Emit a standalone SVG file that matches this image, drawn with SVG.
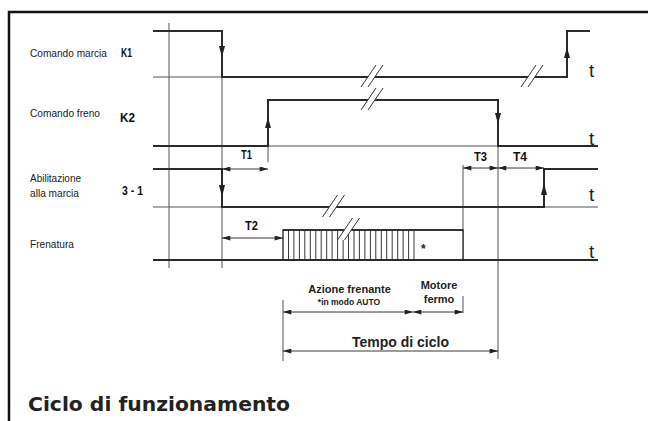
<svg xmlns="http://www.w3.org/2000/svg" xmlns:xlink="http://www.w3.org/1999/xlink" width="648" height="421" viewBox="0 0 648 421">
<style>
.sig{fill:none;stroke:#2b2b2b;stroke-width:2;stroke-linejoin:miter}
.thin{fill:none;stroke:#555;stroke-width:1}
.dim{fill:none;stroke:#222;stroke-width:0.9;marker-start:url(#da);marker-end:url(#da)}
.ah{fill:#222}
.lbl{font-family:"Liberation Sans",Arial,sans-serif;font-size:11px;fill:#222}
.code{font-family:"Liberation Sans",Arial,sans-serif;font-weight:bold;font-size:12px;fill:#111}
.t{font-family:"Liberation Sans",Arial,sans-serif;font-size:19px;fill:#222}
.b{font-family:"Liberation Sans",Arial,sans-serif;font-weight:bold;fill:#222}
</style>
<defs>
<marker id="da" viewBox="0 0 10 6" refX="10" refY="3" markerWidth="9" markerHeight="5" markerUnits="userSpaceOnUse" orient="auto-start-reverse">
<path d="M0,0 L10,3 L0,6 z" fill="#222"/>
</marker>
<g id="brk">
<polygon points="-10.5,10 4.5,-12 11.5,-12 -3.5,10" fill="#fff"/>
<line x1="-10.5" y1="10" x2="4.5" y2="-12" stroke="#333" stroke-width="1"/>
<line x1="-3.5" y1="10" x2="11.5" y2="-12" stroke="#333" stroke-width="1"/>
</g>
</defs>
<rect width="648" height="421" fill="#fff"/>
<path d="M9,421 V12 H648" fill="none" stroke="#111" stroke-width="2.5"/>

<g id="labels">
<text class="lbl" x="30" y="57" textLength="77" lengthAdjust="spacingAndGlyphs">Comando marcia</text>
<text class="code" x="121" y="57" textLength="11" lengthAdjust="spacingAndGlyphs">K1</text>
<text class="lbl" x="30" y="117" textLength="70" lengthAdjust="spacingAndGlyphs">Comando freno</text>
<text class="code" x="120" y="122" textLength="15" lengthAdjust="spacingAndGlyphs">K2</text>
<text class="lbl" x="30" y="182" textLength="51" lengthAdjust="spacingAndGlyphs">Abilitazione</text>
<text class="lbl" x="30" y="197" textLength="49" lengthAdjust="spacingAndGlyphs">alla marcia</text>
<text class="code" x="122" y="195" textLength="21" lengthAdjust="spacingAndGlyphs">3 - 1</text>
<text class="lbl" x="30" y="248" textLength="44" lengthAdjust="spacingAndGlyphs">Frenatura</text>
</g>

<g id="axis">
<line class="thin" x1="169" y1="23" x2="169" y2="268"/>
<line class="thin" x1="222" y1="31" x2="222" y2="268"/>
<line class="thin" x1="268" y1="146" x2="268" y2="162"/>
<line class="thin" x1="463" y1="165" x2="463" y2="260"/>
<line class="thin" x1="498" y1="146" x2="498" y2="359"/>
<line class="thin" x1="153" y1="77" x2="222" y2="77"/>
<line class="thin" x1="268" y1="146" x2="498" y2="146"/>
<line class="thin" x1="153" y1="207" x2="222" y2="207"/>
<line class="thin" x1="544" y1="207" x2="598" y2="207"/>
<line class="thin" x1="283" y1="300" x2="283" y2="361"/>
<line class="thin" x1="463" y1="296" x2="463" y2="313"/>
</g>

<g id="K1">
<path class="sig" d="M153,31 H222 V77 H567 V31 H590"/>
<polygon class="ah" points="219,46 225,46 222,57"/>
<polygon class="ah" points="564,58 570,58 567,47"/>
<use xlink:href="#brk" x="371.5" y="77"/>
<use xlink:href="#brk" x="531.5" y="77"/>
<text class="t" x="589" y="77">t</text>
</g>

<g id="K2">
<path class="sig" d="M153,146 H268 V100 H498 V146 H598"/>
<polygon class="ah" points="265,128 271,128 268,117"/>
<polygon class="ah" points="495,113 501,113 498,124"/>
<use xlink:href="#brk" x="371.5" y="100"/>
<text class="t" x="589" y="145">t</text>
</g>

<g id="S31">
<path class="sig" d="M153,169 H222 V207 H544 V169 H598"/>
<polygon class="ah" points="219,185 225,185 222,197"/>
<polygon class="ah" points="541,195 547,195 544,183"/>
<use xlink:href="#brk" x="333" y="207"/>
<text class="t" x="589" y="201">t</text>
</g>

<g id="Frenatura">
<line class="sig" x1="153" y1="260" x2="598" y2="260"/>
<rect x="283" y="230" width="180" height="30" fill="#fff" stroke="#222" stroke-width="1.3"/>
<path d="M288.5,230V260M293.9,230V260M299.4,230V260M304.8,230V260M310.3,230V260M315.8,230V260M321.2,230V260M326.7,230V260M332.1,230V260M337.6,230V260M343.1,230V260M348.5,230V260M354,230V260M359.4,230V260M364.9,230V260M370.4,230V260M375.8,230V260M381.3,230V260M386.7,230V260M392.2,230V260M397.7,230V260M403.1,230V260M408.6,230V260M414,230V260" stroke="#222" stroke-width="0.9"/>
<line x1="283" y1="230" x2="463" y2="230" stroke="#222" stroke-width="1.6"/>
<line class="sig" x1="283" y1="260" x2="463" y2="260"/>
<use xlink:href="#brk" x="348" y="230"/>
<text class="b" x="421" y="253" font-size="12">*</text>
<text class="t" x="589" y="258">t</text>
</g>

<g id="dimensions">
<line class="dim" x1="222" y1="169" x2="268" y2="169"/>
<text class="code" x="241" y="159" textLength="11" lengthAdjust="spacingAndGlyphs">T1</text>
<line class="dim" x1="222" y1="238" x2="283" y2="238"/>
<text class="code" x="245" y="230" textLength="13" lengthAdjust="spacingAndGlyphs">T2</text>
<line class="dim" x1="463" y1="168" x2="498" y2="168"/>
<text class="code" x="474" y="161" textLength="13" lengthAdjust="spacingAndGlyphs">T3</text>
<line class="dim" x1="498" y1="168" x2="544" y2="168"/>
<text class="code" x="513" y="161" textLength="14" lengthAdjust="spacingAndGlyphs">T4</text>
<line class="dim" x1="283" y1="312" x2="413" y2="312"/>
<line class="dim" x1="413" y1="312" x2="463" y2="312"/>
<line class="dim" x1="283" y1="351" x2="498" y2="351"/>
</g>

<g id="notes">
<text class="b" x="349.5" y="293" font-size="11" text-anchor="middle">Azione frenante</text>
<text class="b" x="349" y="305" font-size="8.5" text-anchor="middle">*in modo AUTO</text>
<text class="b" x="439" y="289" font-size="11" text-anchor="middle">Motore</text>
<text class="b" x="439" y="303" font-size="11" text-anchor="middle">fermo</text>
<text class="b" x="400.5" y="347" font-size="14" text-anchor="middle">Tempo di ciclo</text>
</g>

<text x="28" y="411" font-family="'DejaVu Sans',Verdana,sans-serif" font-weight="bold" font-size="19" fill="#222" textLength="262" lengthAdjust="spacingAndGlyphs">Ciclo di funzionamento</text>
</svg>
